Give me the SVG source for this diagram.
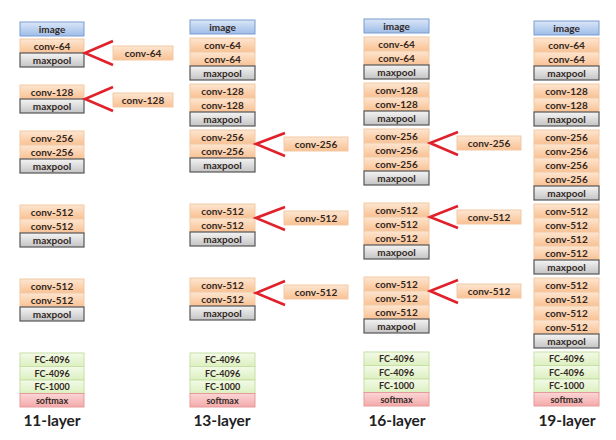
<svg xmlns="http://www.w3.org/2000/svg" width="616" height="440" viewBox="0 0 616 440">
<defs>
<linearGradient id="gImg" x1="0" y1="0" x2="0" y2="1"><stop offset="0" stop-color="#dbe6f7"/><stop offset="1" stop-color="#9dbde8"/></linearGradient>
<linearGradient id="gConv" x1="0" y1="0" x2="0" y2="1"><stop offset="0" stop-color="#fde6d1"/><stop offset="1" stop-color="#f9c193"/></linearGradient>
<linearGradient id="gPool" x1="0" y1="0" x2="0" y2="1"><stop offset="0" stop-color="#f4f4f4"/><stop offset="1" stop-color="#c4c4c4"/></linearGradient>
<linearGradient id="gFc" x1="0" y1="0" x2="0" y2="1"><stop offset="0" stop-color="#f3fae8"/><stop offset="1" stop-color="#dcf0c0"/></linearGradient>
<linearGradient id="gSm" x1="0" y1="0" x2="0" y2="1"><stop offset="0" stop-color="#fbd6d6"/><stop offset="1" stop-color="#f4a9aa"/></linearGradient>
</defs>
<style>
.img{fill:url(#gImg);stroke:#7a9bd0;stroke-width:1}
.conv{fill:url(#gConv);stroke:#f2c9a4;stroke-width:1}
.pool{fill:url(#gPool);stroke:#555;stroke-width:1.2}
.fc{fill:url(#gFc);stroke:#c7e0a6;stroke-width:1}
.sm{fill:url(#gSm);stroke:#e79a9a;stroke-width:1}
text{font-family:Lato,"Liberation Sans",sans-serif;font-weight:bold;text-anchor:middle;fill:#33281f}
.t{font-size:10px}
.ts{font-size:9px}
.lbl{font-size:15.5px;fill:#222}
.chev{fill:none;stroke:#e0212b;stroke-width:2.6;stroke-linejoin:miter}
</style>
<rect width="616" height="440" fill="#fff"/>

<!-- 11-layer -->
<g id="c1-image"><rect class="img" x="20" y="22" width="64" height="14"/><text class="t" x="52" y="32.5">image</text></g>
<g id="c1-conv64"><rect class="conv" x="20" y="39" width="64" height="14"/><text class="t" x="52" y="49.5">conv-64</text></g>
<g id="c1-pool1"><rect class="pool" x="20" y="53" width="64" height="14"/><text class="t" x="52" y="63.5">maxpool</text></g>
<g id="c1-conv128"><rect class="conv" x="20" y="85" width="64" height="14"/><text class="t" x="52" y="95.5">conv-128</text></g>
<g id="c1-pool2"><rect class="pool" x="20" y="99" width="64" height="14"/><text class="t" x="52" y="109.5">maxpool</text></g>
<g id="c1-conv256a"><rect class="conv" x="20" y="131" width="64" height="14"/><text class="t" x="52" y="141.5">conv-256</text></g>
<g id="c1-conv256b"><rect class="conv" x="20" y="145" width="64" height="14"/><text class="t" x="52" y="155.5">conv-256</text></g>
<g id="c1-pool3"><rect class="pool" x="20" y="159" width="64" height="14"/><text class="t" x="52" y="169.5">maxpool</text></g>
<g id="c1-conv512a"><rect class="conv" x="20" y="205" width="64" height="14"/><text class="t" x="52" y="215.5">conv-512</text></g>
<g id="c1-conv512b"><rect class="conv" x="20" y="219" width="64" height="14"/><text class="t" x="52" y="229.5">conv-512</text></g>
<g id="c1-pool4"><rect class="pool" x="20" y="233" width="64" height="14"/><text class="t" x="52" y="243.5">maxpool</text></g>
<g id="c1-conv512c"><rect class="conv" x="20" y="279" width="64" height="14"/><text class="t" x="52" y="289.5">conv-512</text></g>
<g id="c1-conv512d"><rect class="conv" x="20" y="293" width="64" height="14"/><text class="t" x="52" y="303.5">conv-512</text></g>
<g id="c1-pool5"><rect class="pool" x="20" y="307" width="64" height="14"/><text class="t" x="52" y="317.5">maxpool</text></g>
<g id="c1-fc1"><rect class="fc" x="20" y="353" width="64" height="13.5"/><text class="ts" x="52" y="363">FC-4096</text></g>
<g id="c1-fc2"><rect class="fc" x="20" y="366.5" width="64" height="13.5"/><text class="ts" x="52" y="376.5">FC-4096</text></g>
<g id="c1-fc3"><rect class="fc" x="20" y="380" width="64" height="13.5"/><text class="ts" x="52" y="390">FC-1000</text></g>
<g id="c1-softmax"><rect class="sm" x="20" y="393.5" width="64" height="13.5"/><text class="ts" x="52" y="403.5">softmax</text></g>
<g id="c1-label"><text class="lbl" x="52" y="426">11-layer</text></g>
<g id="c1-side1"><rect class="conv" x="113" y="46" width="60" height="14"/><text class="t" x="143" y="56.5">conv-64</text></g>
<g id="c1-side2"><rect class="conv" x="113" y="93" width="60" height="14"/><text class="t" x="143" y="103.5">conv-128</text></g>

<!-- 13-layer -->
<g id="c2-image"><rect class="img" x="190" y="20" width="65" height="14"/><text class="t" x="222.5" y="30.5">image</text></g>
<g id="c2-conv64a"><rect class="conv" x="190" y="38" width="65" height="14"/><text class="t" x="222.5" y="48.5">conv-64</text></g>
<g id="c2-conv64b"><rect class="conv" x="190" y="52" width="65" height="14"/><text class="t" x="222.5" y="62.5">conv-64</text></g>
<g id="c2-pool1"><rect class="pool" x="190" y="66" width="65" height="14"/><text class="t" x="222.5" y="76.5">maxpool</text></g>
<g id="c2-conv128a"><rect class="conv" x="190" y="84" width="65" height="14"/><text class="t" x="222.5" y="94.5">conv-128</text></g>
<g id="c2-conv128b"><rect class="conv" x="190" y="98" width="65" height="14"/><text class="t" x="222.5" y="108.5">conv-128</text></g>
<g id="c2-pool2"><rect class="pool" x="190" y="112" width="65" height="14"/><text class="t" x="222.5" y="122.5">maxpool</text></g>
<g id="c2-conv256a"><rect class="conv" x="190" y="130" width="65" height="14"/><text class="t" x="222.5" y="140.5">conv-256</text></g>
<g id="c2-conv256b"><rect class="conv" x="190" y="144" width="65" height="14"/><text class="t" x="222.5" y="154.5">conv-256</text></g>
<g id="c2-pool3"><rect class="pool" x="190" y="158" width="65" height="14"/><text class="t" x="222.5" y="168.5">maxpool</text></g>
<g id="c2-conv512a"><rect class="conv" x="190" y="204" width="65" height="14"/><text class="t" x="222.5" y="214.5">conv-512</text></g>
<g id="c2-conv512b"><rect class="conv" x="190" y="218" width="65" height="14"/><text class="t" x="222.5" y="228.5">conv-512</text></g>
<g id="c2-pool4"><rect class="pool" x="190" y="232" width="65" height="14"/><text class="t" x="222.5" y="242.5">maxpool</text></g>
<g id="c2-conv512c"><rect class="conv" x="190" y="278" width="65" height="14"/><text class="t" x="222.5" y="288.5">conv-512</text></g>
<g id="c2-conv512d"><rect class="conv" x="190" y="292" width="65" height="14"/><text class="t" x="222.5" y="302.5">conv-512</text></g>
<g id="c2-pool5"><rect class="pool" x="190" y="306" width="65" height="14"/><text class="t" x="222.5" y="316.5">maxpool</text></g>
<g id="c2-fc1"><rect class="fc" x="190" y="353" width="65" height="13.5"/><text class="ts" x="222.5" y="363">FC-4096</text></g>
<g id="c2-fc2"><rect class="fc" x="190" y="366.5" width="65" height="13.5"/><text class="ts" x="222.5" y="376.5">FC-4096</text></g>
<g id="c2-fc3"><rect class="fc" x="190" y="380" width="65" height="13.5"/><text class="ts" x="222.5" y="390">FC-1000</text></g>
<g id="c2-softmax"><rect class="sm" x="190" y="393.5" width="65" height="13.5"/><text class="ts" x="222.5" y="403.5">softmax</text></g>
<g id="c2-label"><text class="lbl" x="222" y="426">13-layer</text></g>
<g id="c2-side1"><rect class="conv" x="284" y="137" width="64" height="14"/><text class="t" x="316" y="147.5">conv-256</text></g>
<g id="c2-side2"><rect class="conv" x="284" y="211" width="64" height="14"/><text class="t" x="316" y="221.5">conv-512</text></g>
<g id="c2-side3"><rect class="conv" x="284" y="285" width="64" height="14"/><text class="t" x="316" y="295.5">conv-512</text></g>

<!-- 16-layer -->
<g id="c3-image"><rect class="img" x="364" y="19" width="65" height="14"/><text class="t" x="396.5" y="29.5">image</text></g>
<g id="c3-conv64a"><rect class="conv" x="364" y="37" width="65" height="14"/><text class="t" x="396.5" y="47.5">conv-64</text></g>
<g id="c3-conv64b"><rect class="conv" x="364" y="51" width="65" height="14"/><text class="t" x="396.5" y="61.5">conv-64</text></g>
<g id="c3-pool1"><rect class="pool" x="364" y="65" width="65" height="14"/><text class="t" x="396.5" y="75.5">maxpool</text></g>
<g id="c3-conv128a"><rect class="conv" x="364" y="83" width="65" height="14"/><text class="t" x="396.5" y="93.5">conv-128</text></g>
<g id="c3-conv128b"><rect class="conv" x="364" y="97" width="65" height="14"/><text class="t" x="396.5" y="107.5">conv-128</text></g>
<g id="c3-pool2"><rect class="pool" x="364" y="111" width="65" height="14"/><text class="t" x="396.5" y="121.5">maxpool</text></g>
<g id="c3-conv256a"><rect class="conv" x="364" y="129" width="65" height="14"/><text class="t" x="396.5" y="139.5">conv-256</text></g>
<g id="c3-conv256b"><rect class="conv" x="364" y="143" width="65" height="14"/><text class="t" x="396.5" y="153.5">conv-256</text></g>
<g id="c3-conv256c"><rect class="conv" x="364" y="157" width="65" height="14"/><text class="t" x="396.5" y="167.5">conv-256</text></g>
<g id="c3-pool3"><rect class="pool" x="364" y="171" width="65" height="14"/><text class="t" x="396.5" y="181.5">maxpool</text></g>
<g id="c3-conv512a"><rect class="conv" x="364" y="203" width="65" height="14"/><text class="t" x="396.5" y="213.5">conv-512</text></g>
<g id="c3-conv512b"><rect class="conv" x="364" y="217" width="65" height="14"/><text class="t" x="396.5" y="227.5">conv-512</text></g>
<g id="c3-conv512c"><rect class="conv" x="364" y="231" width="65" height="14"/><text class="t" x="396.5" y="241.5">conv-512</text></g>
<g id="c3-pool4"><rect class="pool" x="364" y="245" width="65" height="14"/><text class="t" x="396.5" y="255.5">maxpool</text></g>
<g id="c3-conv512d"><rect class="conv" x="364" y="277" width="65" height="14"/><text class="t" x="396.5" y="287.5">conv-512</text></g>
<g id="c3-conv512e"><rect class="conv" x="364" y="291" width="65" height="14"/><text class="t" x="396.5" y="301.5">conv-512</text></g>
<g id="c3-conv512f"><rect class="conv" x="364" y="305" width="65" height="14"/><text class="t" x="396.5" y="315.5">conv-512</text></g>
<g id="c3-pool5"><rect class="pool" x="364" y="319" width="65" height="14"/><text class="t" x="396.5" y="329.5">maxpool</text></g>
<g id="c3-fc1"><rect class="fc" x="364" y="352" width="65" height="13.5"/><text class="ts" x="396.5" y="362">FC-4096</text></g>
<g id="c3-fc2"><rect class="fc" x="364" y="365.5" width="65" height="13.5"/><text class="ts" x="396.5" y="375.5">FC-4096</text></g>
<g id="c3-fc3"><rect class="fc" x="364" y="379" width="65" height="13.5"/><text class="ts" x="396.5" y="389">FC-1000</text></g>
<g id="c3-softmax"><rect class="sm" x="364" y="392.5" width="65" height="13.5"/><text class="ts" x="396.5" y="402.5">softmax</text></g>
<g id="c3-label"><text class="lbl" x="397" y="426">16-layer</text></g>
<g id="c3-side1"><rect class="conv" x="457" y="136" width="64" height="14"/><text class="t" x="489" y="146.5">conv-256</text></g>
<g id="c3-side2"><rect class="conv" x="457" y="210" width="64" height="14"/><text class="t" x="489" y="220.5">conv-512</text></g>
<g id="c3-side3"><rect class="conv" x="457" y="284" width="64" height="14"/><text class="t" x="489" y="294.5">conv-512</text></g>

<!-- 19-layer -->
<g id="c4-image"><rect class="img" x="534" y="21" width="65" height="14"/><text class="t" x="566.5" y="31.5">image</text></g>
<g id="c4-conv64a"><rect class="conv" x="534" y="38" width="65" height="14"/><text class="t" x="566.5" y="48.5">conv-64</text></g>
<g id="c4-conv64b"><rect class="conv" x="534" y="52" width="65" height="14"/><text class="t" x="566.5" y="62.5">conv-64</text></g>
<g id="c4-pool1"><rect class="pool" x="534" y="66" width="65" height="14"/><text class="t" x="566.5" y="76.5">maxpool</text></g>
<g id="c4-conv128a"><rect class="conv" x="534" y="84" width="65" height="14"/><text class="t" x="566.5" y="94.5">conv-128</text></g>
<g id="c4-conv128b"><rect class="conv" x="534" y="98" width="65" height="14"/><text class="t" x="566.5" y="108.5">conv-128</text></g>
<g id="c4-pool2"><rect class="pool" x="534" y="112" width="65" height="14"/><text class="t" x="566.5" y="122.5">maxpool</text></g>
<g id="c4-conv256a"><rect class="conv" x="534" y="130" width="65" height="14"/><text class="t" x="566.5" y="140.5">conv-256</text></g>
<g id="c4-conv256b"><rect class="conv" x="534" y="144" width="65" height="14"/><text class="t" x="566.5" y="154.5">conv-256</text></g>
<g id="c4-conv256c"><rect class="conv" x="534" y="158" width="65" height="14"/><text class="t" x="566.5" y="168.5">conv-256</text></g>
<g id="c4-conv256d"><rect class="conv" x="534" y="172" width="65" height="14"/><text class="t" x="566.5" y="182.5">conv-256</text></g>
<g id="c4-pool3"><rect class="pool" x="534" y="186" width="65" height="14"/><text class="t" x="566.5" y="196.5">maxpool</text></g>
<g id="c4-conv512a"><rect class="conv" x="534" y="204" width="65" height="14"/><text class="t" x="566.5" y="214.5">conv-512</text></g>
<g id="c4-conv512b"><rect class="conv" x="534" y="218" width="65" height="14"/><text class="t" x="566.5" y="228.5">conv-512</text></g>
<g id="c4-conv512c"><rect class="conv" x="534" y="232" width="65" height="14"/><text class="t" x="566.5" y="242.5">conv-512</text></g>
<g id="c4-conv512d"><rect class="conv" x="534" y="246" width="65" height="14"/><text class="t" x="566.5" y="256.5">conv-512</text></g>
<g id="c4-pool4"><rect class="pool" x="534" y="260" width="65" height="14"/><text class="t" x="566.5" y="270.5">maxpool</text></g>
<g id="c4-conv512e"><rect class="conv" x="534" y="278" width="65" height="14"/><text class="t" x="566.5" y="288.5">conv-512</text></g>
<g id="c4-conv512f"><rect class="conv" x="534" y="292" width="65" height="14"/><text class="t" x="566.5" y="302.5">conv-512</text></g>
<g id="c4-conv512g"><rect class="conv" x="534" y="306" width="65" height="14"/><text class="t" x="566.5" y="316.5">conv-512</text></g>
<g id="c4-conv512h"><rect class="conv" x="534" y="320" width="65" height="14"/><text class="t" x="566.5" y="330.5">conv-512</text></g>
<g id="c4-pool5"><rect class="pool" x="534" y="334" width="65" height="14"/><text class="t" x="566.5" y="344.5">maxpool</text></g>
<g id="c4-fc1"><rect class="fc" x="534" y="352" width="65" height="13.5"/><text class="ts" x="566.5" y="362">FC-4096</text></g>
<g id="c4-fc2"><rect class="fc" x="534" y="365.5" width="65" height="13.5"/><text class="ts" x="566.5" y="375.5">FC-4096</text></g>
<g id="c4-fc3"><rect class="fc" x="534" y="379" width="65" height="13.5"/><text class="ts" x="566.5" y="389">FC-1000</text></g>
<g id="c4-softmax"><rect class="sm" x="534" y="392.5" width="65" height="13.5"/><text class="ts" x="566.5" y="402.5">softmax</text></g>
<g id="c4-label"><text class="lbl" x="567" y="426">19-layer</text></g>

<g id="connectors">
<polyline class="chev" points="113,41 85,53 113,65"/>
<polyline class="chev" points="113,87 85,99 113,111"/>
<polyline class="chev" points="285,133 256,144 285,156"/>
<polyline class="chev" points="285,207 256,218 285,230"/>
<polyline class="chev" points="285,281 256,293 285,305"/>
<polyline class="chev" points="458,132 430,143 458,155"/>
<polyline class="chev" points="458,206 430,217 458,228"/>
<polyline class="chev" points="458,280 430,291 458,303"/>
</g>
</svg>
